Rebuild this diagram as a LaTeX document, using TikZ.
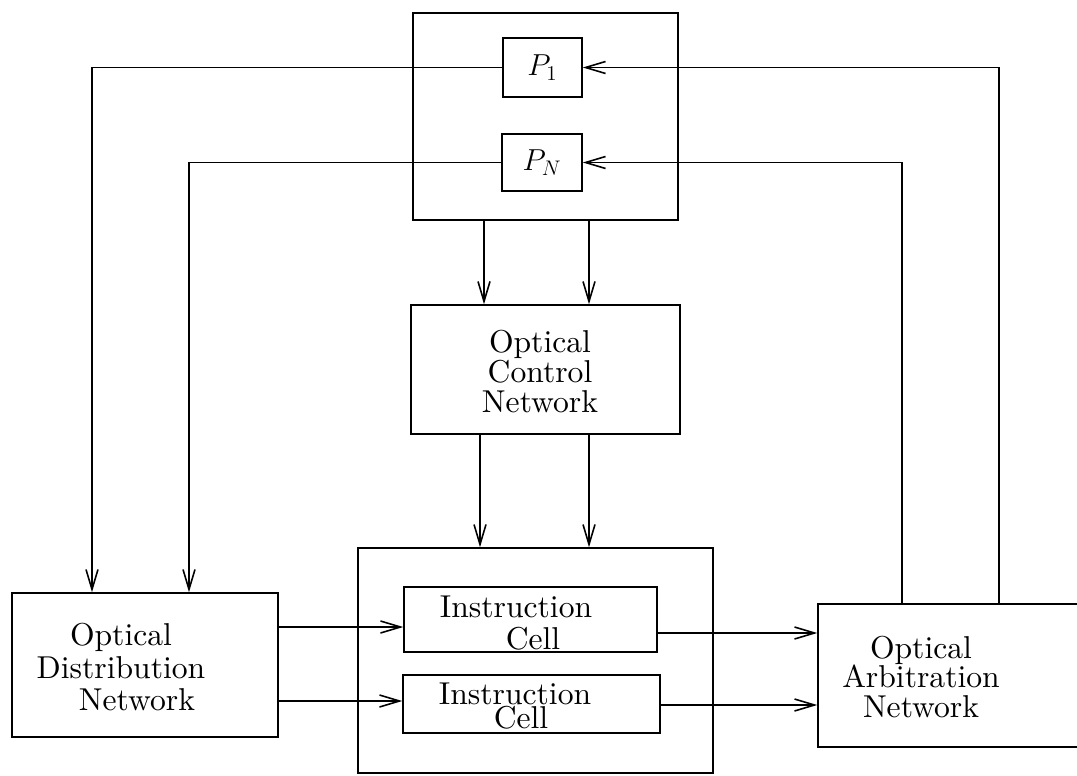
\documentclass[tikz,border=0pt]{standalone}
\usepackage{fontspec}
\setmainfont{lmroman10-regular}[Extension=.otf]
\usetikzlibrary{arrows.meta}
\begin{document}
\begin{tikzpicture}[x=0.02cm,y=-0.02cm,
  box/.style={draw, line width=0.9pt, inner sep=0pt, align=center,
    font=\fontsize{18}{17}\selectfont},
  lbl/.style={inner sep=0pt, align=center, font=\fontsize{18}{17}\selectfont},
  arr/.style={line width=0.9pt, -{Straight Barb[length=4mm,width=2.4mm,line width=0.9pt]}},
  ln/.style={line width=0.9pt}]
\useasboundingbox (0,0) rectangle (1077,776);
\fill[white] (0,0) rectangle (1077,776);

% boxes
\node[box, minimum width=5.30cm, minimum height=4.14cm] (top) at (545.5,116.5) {};
\node[box, minimum width=1.58cm, minimum height=1.18cm] (P1) at (542.5,67.5) {$P_1$};
\node[box, minimum width=1.60cm, minimum height=1.14cm] (PN) at (542,162.5) {$P_N$};
\node[box, minimum width=5.38cm, minimum height=2.58cm] (OCN) at (545.5,369.5) {};
\node[lbl] (OCNt) at (540,371.5) {Optical\\Control\\Network};
\node[box, minimum width=7.10cm, minimum height=4.50cm] (outer) at (535.5,660.5) {};
\node[box, minimum width=5.06cm, minimum height=1.30cm] (IC1) at (530.5,619.5) {};
\node[box, minimum width=5.14cm, minimum height=1.16cm] (IC2) at (531.5,704) {};
\node[lbl] (IC1t) at (516,623) {Instruction\\[1pt]\hspace*{0.68cm}Cell};
\node[lbl] (IC2t) at (515,706) {Instruction\\[-3pt]\hspace*{0.24cm}Cell};
\node[box, minimum width=5.32cm, minimum height=2.88cm] (ODN) at (145,665) {};
\node[lbl] (ODNt) at (121,667) {Optical\\[2pt]Distribution\\[1pt]\hspace*{0.64cm}Network};
\node[box, minimum width=5.44cm, minimum height=2.86cm] (OAN) at (954,675.5) {};
\node[lbl] (OANt) at (921,677) {Optical\\Arbitration\\Network};

% helper coordinates
\coordinate (L1) at (92,0);
\coordinate (L2) at (189,0);
\coordinate (R1) at (999,0);
\coordinate (R2) at (902,0);
\coordinate (M1) at (484,0);
\coordinate (M2) at (589,0);
\coordinate (M3) at (480,0);
\coordinate (M4) at (589,0);
\coordinate (H1) at (0,627);
\coordinate (H2) at (0,701);
\coordinate (H3) at (0,633);
\coordinate (H4) at (0,705);

% connectors
\draw[arr] (P1.west) -| (L1 |- ODN.north);
\draw[arr] (PN.west) -| (L2 |- ODN.north);
\draw[arr] (R1 |- OAN.north) |- (P1.east);
\draw[arr] (R2 |- OAN.north) |- (PN.east);
\draw[arr] (M1 |- top.south) -- (M1 |- OCN.north);
\draw[arr] (M2 |- top.south) -- (M2 |- OCN.north);
\draw[arr] (M3 |- OCN.south) -- (M3 |- outer.north);
\draw[arr] (M4 |- OCN.south) -- (M4 |- outer.north);
\draw[arr] (H1 -| ODN.east) -- (H1 -| IC1.west);
\draw[arr] (H2 -| ODN.east) -- (H2 -| IC2.west);
\draw[arr] (H3 -| IC1.east) -- (H3 -| OAN.west);
\draw[arr] (H4 -| IC2.east) -- (H4 -| OAN.west);
\end{tikzpicture}
\end{document}
